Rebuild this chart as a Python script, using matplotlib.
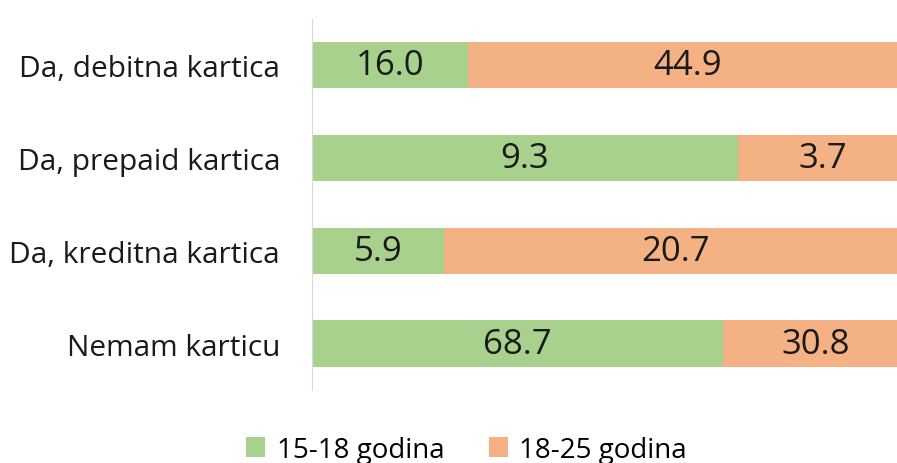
import numpy as np
import matplotlib.pyplot as plt

plt.rcParams['font.family'] = ['Open Sans', 'DejaVu Sans']

categories = ["Da, debitna kartica", "Da, prepaid kartica", "Da, kreditna kartica", "Nemam karticu"]
series_names = ["15-18 godina", "18-25 godina"]
vals_15_18 = [16.0, 9.3, 5.9, 68.7]
vals_18_25 = [44.9, 3.7, 20.7, 30.8]
colors = ["#a9d18e", "#f4b183"]

a = np.array(vals_15_18)
b = np.array(vals_18_25)
tot = a + b
sa = a / tot
sb = b / tot

fig = plt.figure(figsize=(8.97, 4.64), dpi=100)
ax = fig.add_axes([0.3478, 0.157, 0.664, 0.8006])
y = np.arange(len(categories))
bars1 = ax.barh(y, sa, height=0.5, color=colors[0], label=series_names[0])
bars2 = ax.barh(y, sb, left=sa, height=0.5, color=colors[1], label=series_names[1])

for i in range(len(categories)):
    ax.text(sa[i] / 2, y[i], f"{vals_15_18[i]:.1f}", ha='center', va='center', fontsize=25, color='#1a1a1a')
    ax.text(sa[i] + sb[i] / 2, y[i], f"{vals_18_25[i]:.1f}", ha='center', va='center', fontsize=25, color='#1a1a1a')

ax.set_xlim(0, 1)
ax.set_ylim(3.5, -0.5)
ax.set_yticks(y)
ax.set_yticklabels(categories, fontsize=21.5, color='#1a1a1a')
ax.tick_params(axis='y', length=0, pad=23)
ax.set_xticks([])
for s in ['top', 'right', 'bottom']:
    ax.spines[s].set_visible(False)
ax.spines['left'].set_color('#d9d9d9')

fig.legend(handles=[bars1, bars2], labels=series_names, loc='lower center', bbox_to_anchor=(0.52, -0.055),
           ncol=2, frameon=False, fontsize=20, handlelength=0.7, handleheight=0.7, columnspacing=1.6, handletextpad=0.4)

fig.savefig("out.png", dpi=100)
